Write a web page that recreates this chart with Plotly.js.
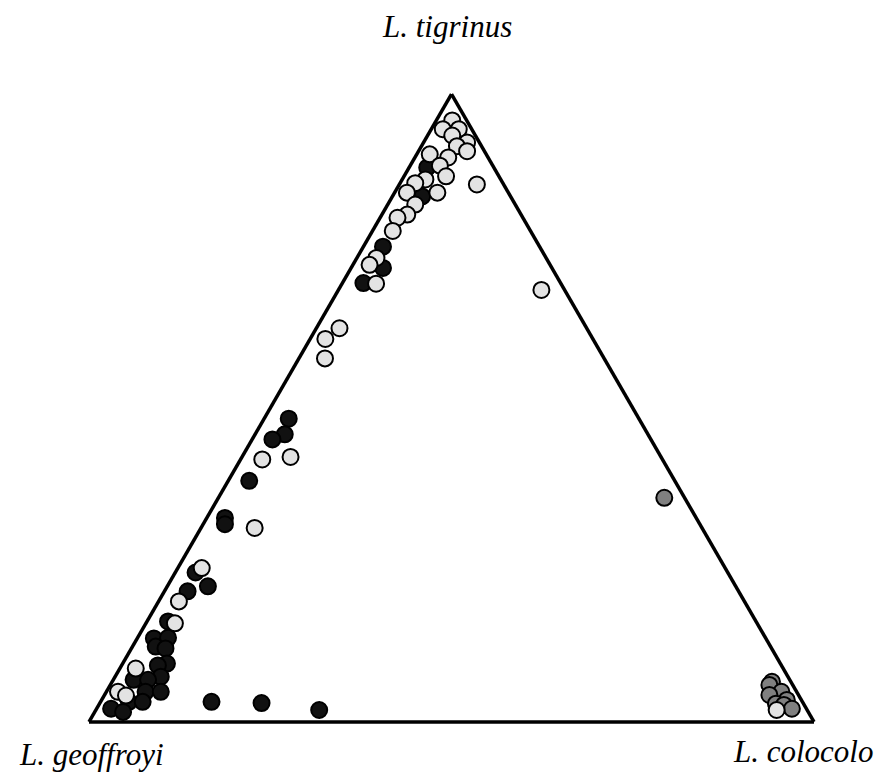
<!DOCTYPE html>
<html>
<head>
<meta charset="utf-8">
<script src="https://cdn.plot.ly/plotly-3.0.1.min.js"></script>
<style>html,body{margin:0;padding:0;background:#fff;}#chart{width:884px;height:778px;}</style>
</head>
<body>
<div id="chart"></div>
<script>
// Vertex labels (a = top, b = bottom-left, c = bottom-right)
var vertexLabels = ["L. tigrinus", "L. geoffroyi", "L. colocolo"];

// Black-filled points (% tigrinus, % geoffroyi, % colocolo)
var blackA = [88.3, 83.7, 75.7, 72.3, 69.9, 48.3, 45.8, 45.0, 38.4, 32.5, 31.5, 23.8, 21.6, 20.8, 16.0, 13.3, 13.4, 12.0, 11.7, 9.3, 9.0, 7.2, 6.7, 6.7, 4.8, 4.8, 3.2, 3.2, 2.1, 1.6, 3.2, 3.0, 1.9];
var blackB = [9.2, 12.2, 21.6, 23.3, 27.2, 48.3, 50.1, 52.2, 58.7, 65.0, 65.5, 73.4, 72.8, 76.0, 81.1, 84.4, 82.4, 84.8, 83.6, 84.6, 86.0, 86.5, 90.5, 88.5, 89.8, 87.7, 92.9, 91.0, 95.9, 94.5, 81.5, 74.7, 67.3];
var blackC = [2.5, 4.1, 2.7, 4.4, 2.9, 3.4, 4.1, 2.8, 2.9, 2.5, 3.0, 2.8, 5.6, 3.2, 2.9, 2.3, 4.2, 3.2, 4.7, 6.1, 5.0, 6.3, 2.8, 4.8, 5.4, 7.5, 3.9, 5.8, 2.0, 3.9, 15.3, 22.3, 30.8];

// Dark grey points
var greyA = [35.7, 6.4, 5.9, 4.8, 4.3, 3.5, 2.9, 2.7, 2.1];
var greyB = [2.8, 2.6, 3.2, 2.1, 4.0, 2.0, 3.8, 2.8, 2.0];
var greyC = [61.5, 91.0, 90.9, 93.1, 91.7, 94.5, 93.3, 94.5, 95.9];

// Light grey points
var lightA = [95.8, 94.4, 94.4, 93.4, 92.3, 91.7, 90.9, 90.4, 89.9, 88.6, 86.9, 86.4, 85.8, 85.6, 84.3, 84.3, 82.4, 80.8, 80.3, 78.2, 73.9, 72.8, 69.8, 68.8, 62.7, 61.0, 57.9, 41.8, 42.2, 30.9, 24.5, 19.2, 15.7, 8.5, 4.8, 4.2, 1.9];
var lightB = [2.0, 4.0, 1.8, 3.2, 1.7, 3.4, 2.4, 7.8, 5.5, 7.3, 7.3, 10.4, 12.1, 3.7, 14.0, 9.8, 13.8, 15.7, 17.3, 19.0, 23.4, 24.9, 25.5, 3.2, 34.1, 36.9, 38.5, 55.2, 51.1, 61.7, 72.2, 78.0, 80.3, 89.3, 93.6, 92.8, 4.2];
var lightC = [2.2, 1.6, 3.8, 3.4, 6.0, 4.9, 6.7, 1.8, 4.6, 4.1, 5.8, 3.2, 2.1, 10.7, 1.7, 5.9, 3.8, 3.5, 2.4, 2.8, 2.7, 2.3, 4.7, 28.0, 3.2, 2.1, 3.6, 3.0, 6.7, 7.4, 3.3, 2.8, 4.0, 2.2, 1.6, 3.0, 93.9];

function tr(a, b, c, fill) {
  return {
    type: 'scatterternary', mode: 'markers',
    a: a, b: b, c: c,
    marker: {size: 16, color: fill, line: {color: '#000', width: 2}},
    hoverinfo: 'skip', showlegend: false
  };
}

var data = [
  tr(blackA, blackB, blackC, '#111111'),
  tr(greyA, greyB, greyC, '#808080'),
  tr(lightA, lightB, lightC, '#e3e3e3')
];

var axisStyle = {
  showline: true, linecolor: '#000', linewidth: 3.5,
  showgrid: false, showticklabels: false, ticks: '', title: {text: ''}
};

var lblFont = {family: 'Liberation Serif, Times New Roman, serif', size: 31, color: '#000'};

var layout = {
  width: 884, height: 778,
  margin: {l: 89, r: 70, t: 94, b: 56},
  paper_bgcolor: '#fff',
  showlegend: false,
  ternary: {
    sum: 100,
    bgcolor: '#fff',
    aaxis: axisStyle, baxis: axisStyle, caxis: axisStyle
  },
  annotations: [
    {text: '<i>' + vertexLabels[0] + '</i>', xref: 'paper', yref: 'paper', x: 0.494, y: 1.108, showarrow: false, font: lblFont, xanchor: 'center', yanchor: 'middle'},
    {text: '<i>' + vertexLabels[1] + '</i>', xref: 'paper', yref: 'paper', x: 0.004, y: -0.052, showarrow: false, font: lblFont, xanchor: 'center', yanchor: 'middle'},
    {text: '<i>' + vertexLabels[2] + '</i>', xref: 'paper', yref: 'paper', x: 0.985, y: -0.047, showarrow: false, font: lblFont, xanchor: 'center', yanchor: 'middle'}
  ]
};

Plotly.newPlot('chart', data, layout, {displayModeBar: false, staticPlot: true});
</script>
</body>
</html>
